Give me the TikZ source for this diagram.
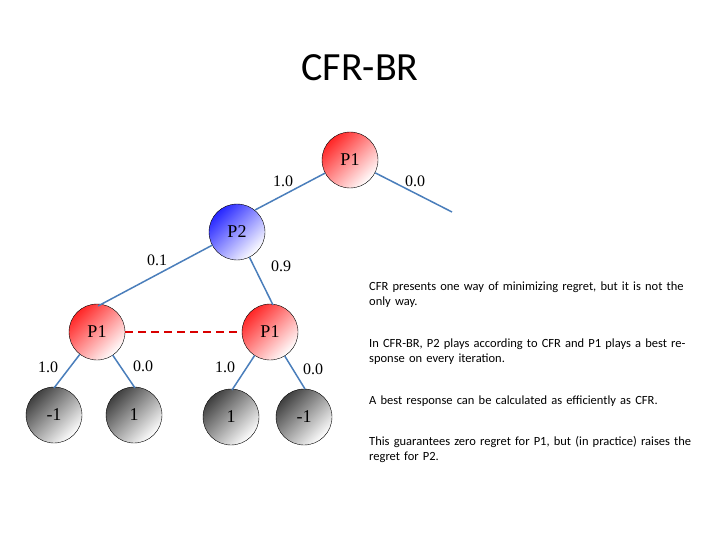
\documentclass[tikz,border=0pt]{standalone}
\usepackage{fontspec}
\newfontfamily\carl{Carlito}
\setmainfont{Liberation Serif}
\definecolor{edc}{RGB}{74,126,187}
\begin{document}
\begin{tikzpicture}[x=1pt,y=-1pt,
 nd/.style={circle,draw,thin,minimum size=56pt,inner sep=0pt,font=\fontsize{18}{18}\selectfont},
 rd/.style={nd,left color=red!85,right color=white,shading angle=45},
 bl/.style={nd,left color=blue!85,right color=white,shading angle=45},
 gy/.style={nd,left color=black!75,right color=white,shading angle=45},
 ed/.style={draw=edc,line width=1.5pt},
 lb/.style={font=\fontsize{16}{16}\selectfont},
 tx/.style={font=\carl\fontsize{12.5}{15}\selectfont,anchor=north west,text width=338pt,inner sep=0pt,align=left}]
\useasboundingbox (0,0) rectangle (720,540);
\node[font=\carl\fontsize{40}{40}\selectfont] (t) at (360,68) {CFR-BR};
\node[rd] (a) at (350,160) {P1};
\node[bl] (b) at (237,232) {P2};
\node[rd] (c) at (97,332) {P1};
\node[rd] (d) at (270,332) {P1};
\node[gy] (e) at (54,415) {-1};
\node[gy] (f) at (134,415) {1};
\node[gy] (g) at (231,417) {1};
\node[gy] (h) at (304,417) {-1};
\coordinate (z) at (452,212);
\draw[ed] (a) -- (255,210);
\draw[ed] (a) -- (z);
\draw[ed] (b) -- (98,306);
\draw[ed] (b) -- (273,305);
\draw[ed] (c) -- (54,388);
\draw[ed] (c) -- (135,388);
\draw[ed] (d) -- (232,390);
\draw[ed] (d) -- (305,389);
\draw[red!85!black,line width=2pt,dash pattern=on 8pt off 5pt] (c) -- (d);
\node[lb] (l1) at (283,181) {1.0};
\node[lb] (l2) at (415,181) {0.0};
\node[lb] (l3) at (157,260) {0.1};
\node[lb] (l4) at (281,266) {0.9};
\node[lb] (l5) at (48,367) {1.0};
\node[lb] (l6) at (143,366) {0.0};
\node[lb] (l7) at (225,367) {1.0};
\node[lb] (l8) at (313,369) {0.0};
\node[tx] (p1) at (369,282) {CFR presents one way of minimizing regret, but it is not the only way.};
\node[tx] (p2) at (369,339) {In CFR-BR, P2 plays according to CFR and P1 plays a best response on every iteration.};
\node[tx] (p3) at (369,396) {A best response can be calculated as efficiently as CFR.};
\node[tx] (p4) at (369,436) {This guarantees zero regret for P1, but (in practice) raises the regret for P2.};
\end{tikzpicture}
\end{document}
